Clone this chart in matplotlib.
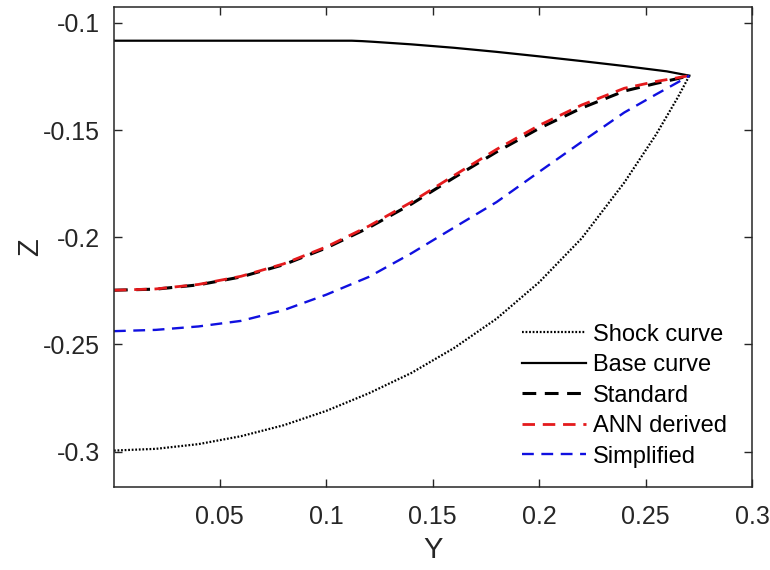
import matplotlib
matplotlib.use('Agg')
import matplotlib.pyplot as plt

# Y positions
y_pts = [0.0003, 0.02, 0.04, 0.06, 0.08, 0.10, 0.12, 0.14, 0.16, 0.18, 0.20, 0.22, 0.24, 0.255, 0.265, 0.2706]

shock = [-0.2995, -0.2987, -0.2965, -0.2928, -0.2877, -0.2810, -0.2728, -0.2633,
         -0.2517, -0.2380, -0.2210, -0.2005, -0.1745, -0.1520, -0.1350, -0.1246]
standard = [-0.2247, -0.2242, -0.2222, -0.2185, -0.2128, -0.2050, -0.1955, -0.1845,
            -0.1722, -0.1602, -0.1492, -0.1397, -0.1318, -0.1282, -0.1260, -0.1246]
ann = [-0.2247, -0.2241, -0.2220, -0.2182, -0.2124, -0.2045, -0.1948, -0.1836,
       -0.1712, -0.1590, -0.1478, -0.1383, -0.1305, -0.1273, -0.1256, -0.1246]
simplified = [-0.2438, -0.2432, -0.2416, -0.2390, -0.2340, -0.2268, -0.2185, -0.2075,
              -0.1955, -0.1836, -0.1695, -0.1555, -0.1418, -0.1333, -0.1278, -0.1246]

base_y = [0.0003, 0.05, 0.10, 0.112, 0.117, 0.122, 0.14, 0.16, 0.18, 0.20, 0.22, 0.24, 0.26, 0.2706]
base = [-0.1083, -0.1083, -0.1083, -0.1083, -0.1085, -0.1088, -0.1100, -0.1116, -0.1135,
        -0.1156, -0.1178, -0.1201, -0.1226, -0.1246]

xticks = [0.05, 0.1, 0.15, 0.2, 0.25, 0.3]
yticks = [-0.3, -0.25, -0.2, -0.15, -0.1]

plt.rcParams['font.family'] = ['Liberation Sans', 'DejaVu Sans']

fig = plt.figure(figsize=(7.7, 5.7), dpi=100)
ax = fig.add_axes([0.148, 0.146, 0.8286, 0.842])

ax.plot(y_pts, shock, color='black', linestyle=(0, (0.8, 0.8)), linewidth=1.6, label='Shock curve')
ax.plot(base_y, base, 'k-', linewidth=1.6, label='Base curve')
ax.plot(y_pts, standard, color='black', linestyle=(0, (4.5, 2.8)), linewidth=2.2, label='Standard')
ax.plot(y_pts, ann, color='#e41a1c', linestyle=(0, (4.5, 2.8)), linewidth=2.0, label='ANN derived')
ax.plot(y_pts, simplified, color='#1010e0', linestyle=(0, (5, 3.2)), linewidth=1.7, label='Simplified')

ax.set_xlim(0.0003, 0.3)
ax.set_ylim(-0.3164, -0.0925)
ax.set_xticks(xticks)
ax.set_xticklabels(['0.05', '0.1', '0.15', '0.2', '0.25', '0.3'])
ax.set_yticks(yticks)
ax.set_yticklabels(['-0.3', '-0.25', '-0.2', '-0.15', '-0.1'])

ax.tick_params(direction='in', length=6, width=1, top=True, right=True,
               labelsize=18, colors='#262626')
ax.tick_params(axis='x', pad=13)
ax.tick_params(axis='y', pad=10)
for s in ax.spines.values():
    s.set_color('#262626')
    s.set_linewidth(1.1)

ax.set_xlabel('Y', fontsize=21, color='#262626', labelpad=5)
ax.set_ylabel('Z', fontsize=21, color='#262626', labelpad=-1)

ax.legend(loc='lower left', bbox_to_anchor=(0.64, 0.04), frameon=False, fontsize=17,
          handlelength=2.7, handletextpad=0.3, labelspacing=0.36, borderpad=0, borderaxespad=0)

plt.savefig('out.png', dpi=100)
